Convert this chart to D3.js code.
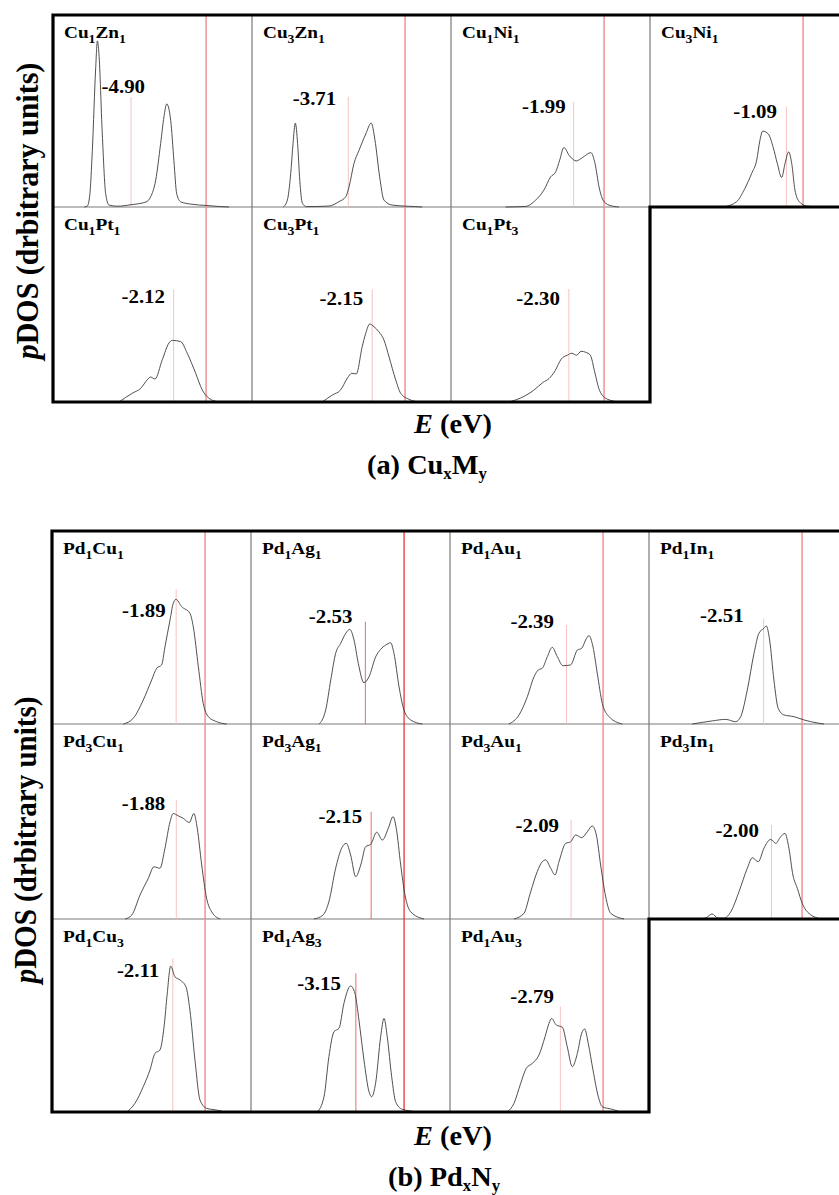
<!DOCTYPE html>
<html>
<head>
<meta charset="utf-8">
<script src="https://cdn.jsdelivr.net/npm/d3@7"></script>
<style>
  body { margin: 0; background: #fff; }
  svg { display: block; }
</style>
</head>
<body>
<div id="chart"></div>
<script>
// ---- data: panel names, d-band centres (eV) and pDOS curves [E (eV), pDOS (arb.)] ----
var panelsA = ["Cu1Zn1", "Cu3Zn1", "Cu1Ni1", "Cu3Ni1", "Cu1Pt1", "Cu3Pt1", "Cu1Pt3"];
var centersA = [-4.90, -3.71, -1.99, -1.09, -2.12, -2.15, -2.30];

var panelsB = ["Pd1Cu1", "Pd1Ag1", "Pd1Au1", "Pd1In1", "Pd3Cu1", "Pd3Ag1", "Pd3Au1", "Pd3In1", "Pd1Cu3", "Pd1Ag3", "Pd1Au3"];
var centersB = [-1.89, -2.53, -2.39, -2.51, -1.88, -2.15, -2.09, -2.00, -2.11, -3.15, -2.79];

var cu1zn1 = [[-7.95,0],[-7.76,0.005],[-7.6,0.06],[-7.43,0.295],[-7.21,0.727],[-7.1,0.865],[-7.0,0.8],[-6.78,0.38],[-6.56,0.07],[-6.34,0.01],[-5.8,0.004],[-4.9,0.012],[-3.93,0.026],[-3.62,0.053],[-3.29,0.14],[-2.97,0.33],[-2.75,0.47],[-2.57,0.537],[-2.31,0.45],[-2.1,0.24],[-1.92,0.07],[-1.66,0.027],[-1.0,0.015],[0,0.008],[0.8,0.003],[1.5,0]];
var cu3zn1 = [[-7.95,0],[-7.69,0.036],[-7.47,0.175],[-7.32,0.33],[-7.17,0.437],[-7.02,0.33],[-6.88,0.14],[-6.71,0.02],[-6.45,0.002],[-4.97,0.005],[-4.32,0.028],[-3.88,0.053],[-3.66,0.105],[-3.34,0.226],[-3.01,0.295],[-2.57,0.38],[-2.21,0.437],[-1.97,0.35],[-1.66,0.157],[-1.38,0.036],[-0.84,0.01],[0.69,0.002],[1.12,0]];
var cu1ni1 = [[-6.43,0],[-5.12,0.003],[-4.47,0.036],[-3.93,0.088],[-3.49,0.157],[-3.16,0.183],[-2.9,0.244],[-2.62,0.31],[-2.29,0.27],[-1.82,0.24],[-1.42,0.257],[-0.86,0.283],[-0.59,0.226],[-0.33,0.105],[-0.07,0.036],[0.32,0.01],[0.97,0]];
var cu3ni1 = [[-5.21,0],[-4.34,0.028],[-3.8,0.097],[-3.36,0.175],[-3.03,0.244],[-2.82,0.347],[-2.64,0.395],[-2.27,0.38],[-1.95,0.31],[-1.68,0.226],[-1.4,0.154],[-1.18,0.226],[-0.94,0.287],[-0.74,0.226],[-0.53,0.088],[-0.25,0.028],[0.23,0.005],[1.1,0]];
var cu1pt1 = [[-5.69,0],[-4.82,0.045],[-4.27,0.07],[-3.84,0.114],[-3.62,0.128],[-3.34,0.118],[-2.86,0.217],[-2.42,0.303],[-2.21,0.316],[-1.66,0.31],[-1.23,0.25],[-0.68,0.147],[-0.25,0.062],[0.19,0.019],[0.84,0]];
var cu3pt1 = [[-5.41,0],[-4.75,0.036],[-4.21,0.062],[-3.77,0.122],[-3.49,0.147],[-3.19,0.144],[-2.8,0.284],[-2.57,0.352],[-2.31,0.4],[-2.03,0.386],[-1.71,0.36],[-1.38,0.318],[-1.05,0.232],[-0.61,0.113],[-0.29,0.045],[0.25,0.014],[0.91,0]];
var cu1pt3 = [[-6.2,0],[-5.2,0.03],[-4.6,0.06],[-4.0,0.1],[-3.6,0.12],[-3.2,0.16],[-2.8,0.22],[-2.4,0.24],[-2.1,0.25],[-1.8,0.24],[-1.5,0.26],[-1.2,0.255],[-0.9,0.24],[-0.6,0.15],[-0.3,0.06],[0.2,0.015],[1.0,0]];

var pd1cu1 = [[-5.34,0],[-4.69,0.03],[-4.04,0.124],[-3.49,0.228],[-3.16,0.289],[-2.84,0.306],[-2.62,0.4],[-2.29,0.539],[-2.08,0.625],[-1.9,0.646],[-1.53,0.608],[-0.99,0.574],[-0.77,0.504],[-0.44,0.297],[-0.12,0.107],[0.21,0.038],[0.76,0.012],[1.41,0]];
var pd1ag1 = [[-5.56,0],[-5.35,0.02],[-5.12,0.073],[-4.79,0.228],[-4.47,0.366],[-4.14,0.418],[-3.81,0.47],[-3.55,0.49],[-3.27,0.435],[-2.99,0.314],[-2.62,0.214],[-2.29,0.245],[-1.85,0.349],[-1.53,0.387],[-1.2,0.409],[-0.88,0.421],[-0.66,0.366],[-0.33,0.193],[-0.01,0.073],[0.43,0.021],[1.19,0]];
var pd1au1 = [[-6.15,0],[-5.49,0.047],[-4.95,0.141],[-4.51,0.245],[-4.23,0.28],[-3.97,0.289],[-3.64,0.349],[-3.32,0.397],[-2.99,0.349],[-2.62,0.302],[-2.12,0.306],[-1.68,0.383],[-1.4,0.392],[-1.14,0.435],[-0.92,0.458],[-0.66,0.4],[-0.38,0.263],[-0.05,0.107],[0.39,0.038],[1.25,0]];
var pd1in1 = [[-7.17,0],[-5.87,0.016],[-4.99,0.024],[-4.34,0.012],[-4.01,0.038],[-3.58,0.176],[-3.14,0.366],[-2.82,0.47],[-2.49,0.496],[-2.34,0.508],[-2.12,0.435],[-1.84,0.228],[-1.56,0.081],[-1.18,0.047],[-0.53,0.038],[0.12,0.021],[1.1,0.004],[1.43,0]];
var pd3cu1 = [[-5.23,0],[-4.79,0.02],[-4.25,0.123],[-3.71,0.208],[-3.34,0.268],[-2.95,0.26],[-2.62,0.363],[-2.29,0.498],[-2.08,0.541],[-1.75,0.529],[-1.42,0.516],[-1.03,0.495],[-0.73,0.541],[-0.51,0.464],[-0.22,0.277],[0.1,0.106],[0.43,0.037],[0.97,0]];
var pd3ag1 = [[-5.89,0],[-5.3,0.02],[-4.91,0.089],[-4.47,0.26],[-4.08,0.363],[-3.78,0.388],[-3.49,0.328],[-3.16,0.217],[-2.83,0.277],[-2.51,0.371],[-2.18,0.383],[-1.79,0.445],[-1.42,0.405],[-1.03,0.465],[-0.72,0.525],[-0.51,0.465],[-0.22,0.277],[0.06,0.123],[0.43,0.037],[1.3,0]];
var pd3au1 = [[-5.82,0],[-5.17,0.029],[-4.73,0.14],[-4.3,0.243],[-3.97,0.294],[-3.75,0.303],[-3.42,0.26],[-3.14,0.226],[-2.88,0.294],[-2.44,0.388],[-2.12,0.396],[-1.79,0.431],[-1.4,0.417],[-1.03,0.447],[-0.71,0.477],[-0.44,0.431],[-0.16,0.277],[0.17,0.114],[0.5,0.029],[1.37,0]];
var pd3in1 = [[-6.73,0],[-6.3,0.005],[-5.88,0.026],[-5.5,0.005],[-5.1,0.004],[-4.66,0.037],[-4.12,0.14],[-3.58,0.26],[-3.25,0.314],[-2.86,0.294],[-2.49,0.363],[-2.05,0.408],[-1.72,0.388],[-1.4,0.422],[-1.12,0.439],[-0.86,0.363],[-0.6,0.226],[-0.31,0.157],[0.01,0.08],[0.34,0.037],[1.23,0]];
var pd1cu3 = [[-5.12,0],[-4.58,0.045],[-4.04,0.131],[-3.6,0.218],[-3.27,0.304],[-2.95,0.321],[-2.68,0.442],[-2.47,0.615],[-2.25,0.756],[-1.97,0.701],[-1.64,0.684],[-1.25,0.649],[-0.99,0.528],[-0.66,0.269],[-0.33,0.062],[0.1,0.019],[0.76,0.01],[1.3,0]];
var pd1ag3 = [[-5.67,0],[-5.23,0.079],[-4.91,0.287],[-4.58,0.416],[-4.25,0.434],[-3.93,0.563],[-3.49,0.653],[-3.21,0.615],[-2.95,0.477],[-2.62,0.269],[-2.29,0.105],[-2.12,0.079],[-1.86,0.149],[-1.53,0.39],[-1.31,0.485],[-1.1,0.39],[-0.81,0.183],[-0.55,0.053],[-0.12,0.014],[1.08,0]];
var pd1au3 = [[-6.26,0],[-5.82,0.045],[-5.38,0.149],[-5.02,0.226],[-4.62,0.252],[-4.19,0.295],[-3.79,0.39],[-3.53,0.46],[-3.36,0.485],[-3.06,0.451],[-2.66,0.439],[-2.34,0.338],[-2.01,0.235],[-1.68,0.304],[-1.4,0.408],[-1.2,0.43],[-0.97,0.356],[-0.66,0.218],[-0.31,0.079],[-0.05,0.027],[0.6,0.014],[1.15,0]];

var curvesA = [cu1zn1, cu3zn1, cu1ni1, cu3ni1, cu1pt1, cu3pt1, cu1pt3];
var curvesB = [pd1cu1, pd1ag1, pd1au1, pd1in1, pd3cu1, pd3ag1, pd3au1, pd3in1, pd1cu3, pd1ag3, pd1au3];

// ---- layout (kept apart from the data) ----
var W = 839, H = 1195;
var cellW = 199;
var energyRange = [-10, 3];
var sx = 1.1;   // the original figure is slightly stretched horizontally
var FONT = "Liberation Serif";

// per-panel: top of the d-band centre marker and value label placement
var markTopA = [0.573, 0.574, 0.547, 0.522, 0.578, 0.578, 0.58];
var labelYA = [0.594, 0.531, 0.49, 0.464, 0.508, 0.497, 0.5];
var labelDxA = [14, -12, -8, -9.5, -8.6, -9, -9];
var markTopB = [0.698, 0.53, 0.513, 0.548, 0.61, 0.55, 0.508, 0.482, 0.796, 0.718, 0.546];
var labelYB = [0.556, 0.523, 0.499, 0.53, 0.559, 0.49, 0.446, 0.422, 0.701, 0.632, 0.563];
var labelDxB = [-10.5, -13, -12.5, -20, -11, -9, -12, -12.5, -13.5, -15, -6.5];

var svg = d3.select("#chart").append("svg")
    .attr("width", W)
    .attr("height", H)
    .attr("font-family", FONT)
    .attr("font-weight", "bold");

var x = d3.scaleLinear().domain(energyRange).range([0, cellW]);

var line = d3.line()
    .x(d => x(d[0]))
    .y(d => d.y)
    .curve(d3.curveMonotoneX);

// formula like "Cu1Zn1" -> text with subscripts
function formula(g, name, size, subSize, shift) {
    var t = g.append("text").attr("font-size", size);
    var parts = name.match(/[A-Z][a-z]?\d/g);
    var down = false;
    parts.forEach(function(p) {
        var el = p.slice(0, -1), n = p.slice(-1);
        t.append("tspan").attr("dy", down ? -shift : 0).text(el);
        t.append("tspan").attr("dy", shift).attr("font-size", subSize).text(n);
        down = true;
    });
    return t;
}

function stretched(x0, y0, s) {
    return svg.append("g").attr("transform", `translate(${x0},${y0}) scale(${s || sx},1)`);
}

function drawBlock(cfg) {
    var rowTops = [cfg.top];
    cfg.rows.forEach(h => rowTops.push(rowTops[rowTops.length - 1] + h));
    var bottom = rowTops[rowTops.length - 1];
    var L = cfg.left;
    var nLast = cfg.names.length - 4 * (cfg.rows.length - 1);  // cells in the last row

    var grid = svg.append("g");
    // thin internal dividers
    for (var c = 1; c < 4; c++) {
        var yEnd = c <= nLast ? bottom : rowTops[rowTops.length - 2];
        grid.append("line")
            .attr("x1", L + c * cellW).attr("x2", L + c * cellW)
            .attr("y1", cfg.top).attr("y2", yEnd)
            .attr("stroke", "#7a7a7a").attr("stroke-width", 1.2);
    }
    for (var r = 1; r < cfg.rows.length; r++) {
        var xEnd = r === cfg.rows.length - 1 ? L + nLast * cellW : L + 4 * cellW;
        grid.append("line")
            .attr("x1", L).attr("x2", xEnd)
            .attr("y1", rowTops[r]).attr("y2", rowTops[r])
            .attr("stroke", "#7a7a7a").attr("stroke-width", 1.2);
    }

    cfg.names.forEach(function(name, i) {
        var row = Math.floor(i / 4), col = i % 4;
        var cx = L + col * cellW;
        var y = d3.scaleLinear().domain([0, 1]).range([rowTops[row + 1], rowTops[row]]);
        var g = svg.append("g").attr("transform", `translate(${cx},0)`);
        var strong = /Ag/.test(name);

        // Fermi level
        g.append("line")
            .attr("x1", x(0)).attr("x2", x(0))
            .attr("y1", rowTops[row]).attr("y2", rowTops[row + 1])
            .attr("stroke", strong ? "#e42626" : "#f08a8a")
            .attr("stroke-width", strong ? 1.2 : 1.4);

        // d-band centre marker
        var ec = cfg.centers[i];
        g.append("line")
            .attr("x1", x(ec)).attr("x2", x(ec))
            .attr("y1", y(0)).attr("y2", y(cfg.markTop[i]))
            .attr("stroke", strong ? "#ee6a6a" : "#f7c2c2")
            .attr("stroke-width", 1);

        // pDOS curve
        var pts = cfg.curves[i].map(d => { var o = [d[0], d[1]]; o.y = y(d[1]); return o; });
        g.append("path")
            .attr("d", line(pts))
            .attr("fill", "none")
            .attr("stroke", "#3c3c3c")
            .attr("stroke-width", 0.9);

        // panel name
        formula(stretched(cx + 11, rowTops[row] + 23), name, 17.5, 12.5, 5);

        // d-band centre value
        stretched(cx + x(ec) + cfg.labelDx[i], y(cfg.labelY[i]))
            .append("text")
            .attr("text-anchor", "end")
            .attr("font-size", 19)
            .text(ec.toFixed(2));
    });

    // thick outer frame
    var R = L + 4 * cellW, xs = L + nLast * cellW, yl = rowTops[rowTops.length - 2];
    svg.append("path")
        .attr("d", `M${L},${cfg.top}H${R}V${yl}H${xs}V${bottom}H${L}Z`)
        .attr("fill", "none")
        .attr("stroke", "#000")
        .attr("stroke-width", 3.2);

    // axis titles
    var yt = stretched(cfg.yLabelX, cfg.yLabelY, 1.08).append("g").attr("transform", "rotate(-90)")
        .append("text").attr("text-anchor", "middle").attr("font-size", cfg.yLabelSize);
    yt.append("tspan").attr("font-style", "italic").text("p");
    yt.append("tspan").text("DOS (drbitrary units)");

    var xt = stretched(453, cfg.xLabelY, 1.05).append("text")
        .attr("text-anchor", "middle").attr("font-size", 27);
    xt.append("tspan").attr("font-style", "italic").text("E");
    xt.append("tspan").text(" (eV)");

    var tt = stretched(cfg.titleX, cfg.titleY, 1.05).append("text")
        .attr("font-size", 27);
    tt.append("tspan").text(cfg.title[0]);
    tt.append("tspan").attr("dy", 5).attr("font-size", 16).text(cfg.title[1]);
    tt.append("tspan").attr("dy", -5).text(cfg.title[2]);
    tt.append("tspan").attr("dy", 5).attr("font-size", 16).text(cfg.title[3]);
}

drawBlock({
    left: 53, top: 15, rows: [192, 195],
    names: panelsA, centers: centersA, curves: curvesA,
    markTop: markTopA, labelY: labelYA, labelDx: labelDxA,
    yLabelX: 38, yLabelY: 211, yLabelSize: 30,
    xLabelY: 433, titleX: 367, titleY: 474, title: ["(a) Cu", "x", "M", "y"]
});

drawBlock({
    left: 52, top: 531, rows: [193, 195, 193],
    names: panelsB, centers: centersB, curves: curvesB,
    markTop: markTopB, labelY: labelYB, labelDx: labelDxB,
    yLabelX: 36, yLabelY: 840, yLabelSize: 29,
    xLabelY: 1145, titleX: 388, titleY: 1186, title: ["(b) Pd", "x", "N", "y"]
});
</script>
</body>
</html>
